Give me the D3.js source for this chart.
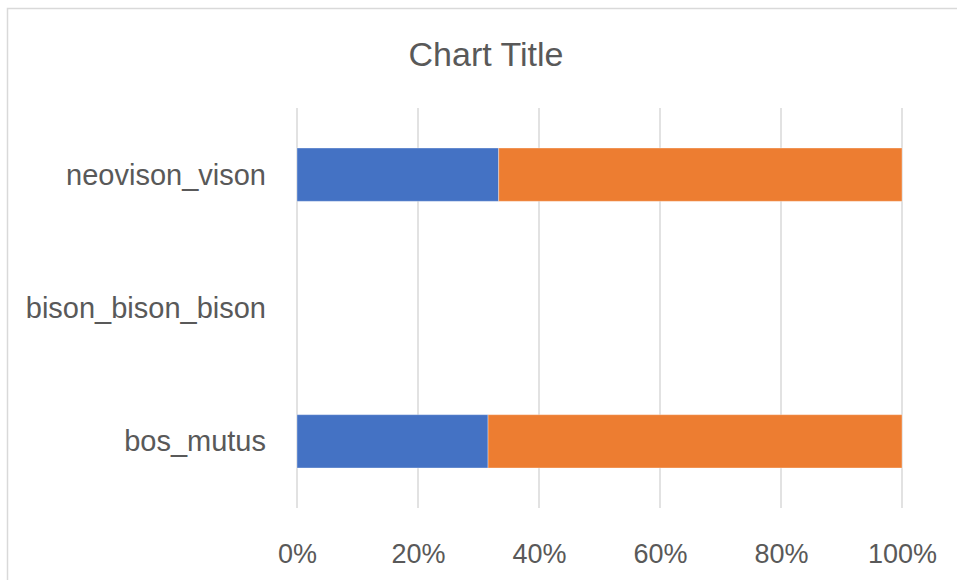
<!DOCTYPE html>
<html>
<head>
<meta charset="utf-8">
<script src="https://cdn.jsdelivr.net/npm/d3@7"></script>
<style>
  html, body { margin: 0; padding: 0; background: #fff; }
  svg { display: block; }
</style>
</head>
<body>
<svg id="chart" width="957" height="580"></svg>
<script>
// ---- data ----
const categories = ["neovison_vison", "bison_bison_bison", "bos_mutus"];
const seriesNames = ["Series1", "Series2"];
const series1 = [1, 0, 6];
const series2 = [2, 0, 13];
const tickValues = [0, 0.2, 0.4, 0.6, 0.8, 1.0];
const colors = ["#4472C4", "#ED7D31"];

const svg = d3.select("#chart");
const W = 957, H = 580;
const font = "'Liberation Sans', Arial, sans-serif";
const textColor = "#595959";

// chart area border (extends past right/bottom edge)
svg.append("rect")
  .attr("x", 7.5).attr("y", 8.5)
  .attr("width", W + 20).attr("height", H + 20)
  .attr("fill", "#fff")
  .attr("stroke", "#d9d9d9")
  .attr("stroke-width", 1.5);

const plot = { left: 297, right: 902, top: 108, bottom: 508 };

const x = d3.scaleLinear().domain([0, 1]).range([plot.left, plot.right]);
const y = d3.scaleBand().domain(categories).range([plot.top, plot.bottom]).paddingInner(0.6).paddingOuter(0.3);

// gridlines
svg.append("g").selectAll("line").data(tickValues).join("line")
  .attr("x1", d => x(d)).attr("x2", d => x(d))
  .attr("y1", plot.top).attr("y2", plot.bottom)
  .attr("stroke", "#d9d9d9").attr("stroke-width", 1.5);

// stacked data
const rows = categories.map((c, i) => ({ cat: c, Series1: series1[i], Series2: series2[i] }));
const stacked = d3.stack().keys(seriesNames).offset(d3.stackOffsetExpand)(rows);

svg.append("g").selectAll("g").data(stacked).join("g")
  .attr("fill", (d, i) => colors[i])
  .selectAll("rect").data(d => d).join("rect")
  .attr("x", d => x(d[0]))
  .attr("width", d => Math.max(0, x(d[1]) - x(d[0])))
  .attr("y", d => y(d.data.cat))
  .attr("height", y.bandwidth())
  .attr("stroke", "#ffffff").attr("stroke-opacity", 0.35).attr("stroke-width", 1);

// x axis labels
const xAxis = d3.axisBottom(x).tickValues(tickValues).tickFormat(d3.format(".0%")).tickSize(0).tickPadding(0);
const gx = svg.append("g").attr("transform", `translate(0, ${plot.bottom})`).call(xAxis);
gx.select(".domain").remove();
gx.selectAll("text")
  .attr("y", 55).attr("dy", null)
  .attr("font-family", font).attr("font-size", 27).attr("fill", textColor);

// y axis labels
const yAxis = d3.axisLeft(y).tickSize(0).tickPadding(0);
const gy = svg.append("g").attr("transform", `translate(266, 0)`).call(yAxis);
gy.select(".domain").remove();
gy.selectAll("text")
  .attr("x", 0).attr("dy", "0.35em")
  .attr("text-anchor", "end")
  .attr("font-family", font).attr("font-size", 29).attr("fill", textColor);

// title
svg.append("text")
  .attr("x", 486).attr("y", 66)
  .attr("text-anchor", "middle")
  .attr("font-family", font).attr("font-size", 34).attr("fill", textColor)
  .text("Chart Title");
</script>
</body>
</html>
